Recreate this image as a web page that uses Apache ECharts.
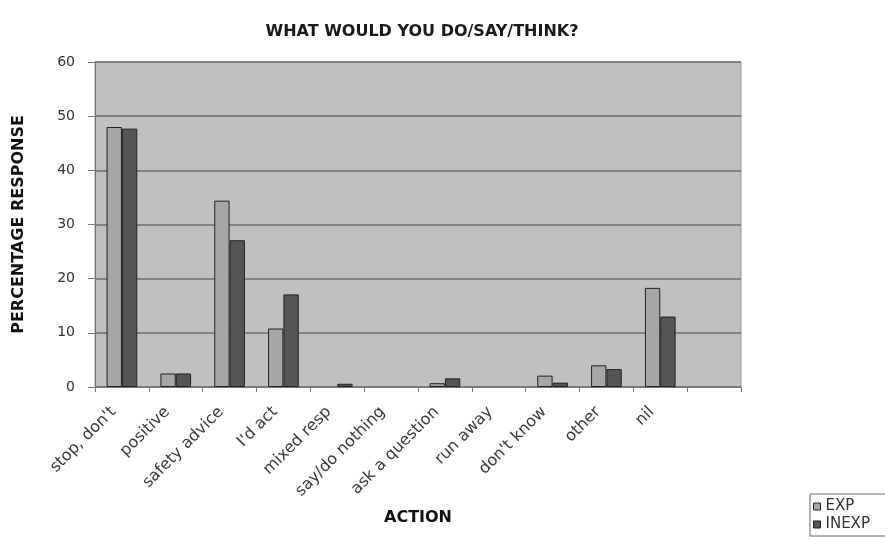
<!DOCTYPE html>
<html>
<head>
<meta charset="utf-8">
<script src="https://cdn.jsdelivr.net/npm/echarts@6/dist/echarts.min.js"></script>
<style>
  html, body { margin: 0; padding: 0; background: #fff; }
  #chart { width: 885px; height: 539px; }
</style>
</head>
<body>
<div id="chart"></div>
<script>
// Survey responses: share of each action, experienced vs inexperienced
const categories = ['stop, don\'t', 'positive', 'safety advice', 'I\'d act', 'mixed resp',
  'say/do nothing', 'ask a question', 'run away', 'don\'t know', 'other', 'nil', ''];
const expValues   = [48.0, 2.5, 34.4, 10.8, 0,   0, 0.7, 0, 2.1, 4.0, 18.3, null];
const inexpValues = [47.7, 2.5, 27.1, 17.1, 0.6, 0, 1.6, 0, 0.8, 3.3, 13.0, null];
const yTicks = [0, 10, 20, 30, 40, 50, 60];

const chart = echarts.init(document.getElementById('chart'));
const font = 'DejaVu Sans, Verdana, sans-serif';

// zero-height bars are left undrawn (no outline)
const toBarData = arr => arr.map(v => v === 0
  ? { value: 0, itemStyle: { borderWidth: 0 } }
  : v);

chart.setOption({
  animation: false,
  backgroundColor: '#ffffff',
  title: {
    text: 'WHAT WOULD YOU DO/SAY/THINK?',
    left: 417, top: 19, textAlign: 'center',
    textStyle: { fontFamily: font, fontSize: 16, fontWeight: 'bold', color: '#1a1a1a' }
  },
  legend: {
    orient: 'vertical',
    left: 810, top: 494,
    padding: [5, 20, 4, 3],
    itemGap: 3,
    itemWidth: 7, itemHeight: 7,
    borderColor: '#666', borderWidth: 1,
    textStyle: { fontFamily: font, fontSize: 15, color: '#333', padding: [0, 0, 0, 0] },
    data: [
      { name: 'EXP', icon: 'rect', itemStyle: { borderColor: '#222', borderWidth: 1 } },
      { name: 'INEXP', icon: 'rect', itemStyle: { borderColor: '#222', borderWidth: 1 } }
    ]
  },
  grid: {
    left: 95, right: 144, top: 62, bottom: 152,
    show: true, backgroundColor: '#c0c0c0', borderColor: '#9a9a9a', borderWidth: 1
  },
  xAxis: {
    type: 'category',
    data: categories,
    name: 'ACTION',
    nameLocation: 'middle',
    nameGap: 123,
    nameTextStyle: { fontFamily: font, fontSize: 16, fontWeight: 'bold', color: '#111' },
    axisLine: { lineStyle: { color: '#777', width: 1 } },
    axisTick: { show: true, alignWithLabel: false, length: 5, lineStyle: { color: '#777' } },
    axisLabel: {
      interval: 0, rotate: 45, fontFamily: font, fontSize: 16, color: '#3a3a3a', margin: 14,
      padding: [0, 12, 0, 0]
    }
  },
  yAxis: {
    type: 'value',
    min: 0, max: 60, interval: 10,
    name: 'PERCENTAGE RESPONSE',
    nameLocation: 'middle',
    nameGap: 68,
    nameTextStyle: { fontFamily: font, fontSize: 16, fontWeight: 'bold', color: '#111' },
    axisLine: { show: true, lineStyle: { color: '#777' } },
    axisTick: { show: true, length: 7, lineStyle: { color: '#777' } },
    axisLabel: {
      fontFamily: font, fontSize: 14, color: '#333', margin: 20,
      formatter: v => yTicks.includes(v) ? String(v) : ''
    },
    splitLine: { show: true, lineStyle: { color: '#6e6e6e', width: 1.5 } }
  },
  series: [
    {
      name: 'EXP', type: 'bar', data: toBarData(expValues),
      barGap: '0%', barCategoryGap: '43%',
      itemStyle: { color: '#a6a6a6', borderColor: '#222', borderWidth: 1 }
    },
    {
      name: 'INEXP', type: 'bar', data: toBarData(inexpValues),
      barGap: '0%', barCategoryGap: '43%',
      itemStyle: { color: '#555555', borderColor: '#222', borderWidth: 1 }
    }
  ]
});
</script>
</body>
</html>
